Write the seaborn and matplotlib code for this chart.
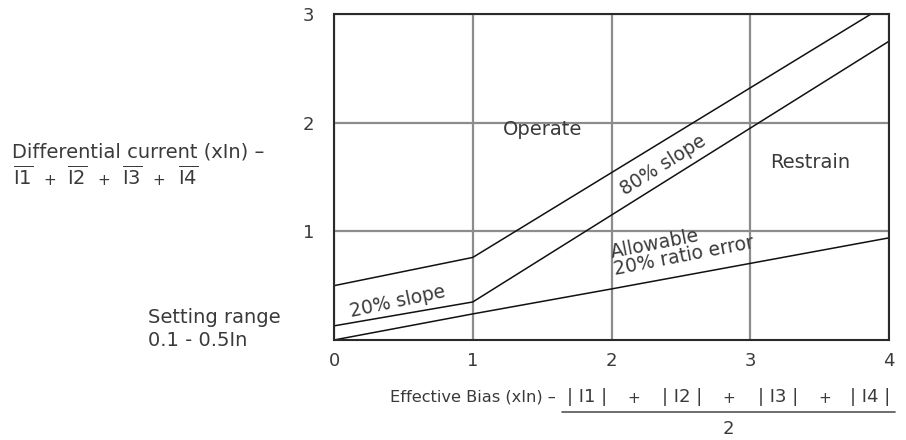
import pandas as pd
import matplotlib.pyplot as plt
import seaborn as sns
from matplotlib.lines import Line2D

# curves (x = effective bias, y = differential current, both xIn)
upper_x = [0, 1, 3.87]
upper_y = [0.50, 0.76, 3.0]
lower_x = [0, 1, 4]
lower_y = [0.13, 0.35, 2.75]
allow_x = [0, 1, 2, 4]
allow_y = [0, 0.24, 0.47, 0.94]

x_ticks = [0, 1, 2, 3, 4]
y_ticks = [1, 2, 3]
phase_terms = ["I1", "I2", "I3", "I4"]

rows = []
for name, xs, ys in [("upper", upper_x, upper_y), ("lower", lower_x, lower_y), ("allow", allow_x, allow_y)]:
    for x, y in zip(xs, ys):
        rows.append({"curve": name, "bias": x, "diff": y})
df = pd.DataFrame(rows)

sns.set_style("white")
plt.rcParams['font.family'] = ['DejaVu Sans']
plt.rcParams['mathtext.fontset'] = 'dejavusans'

txt = "#3a3a3a"
fig = plt.figure(figsize=(9.06, 4.4), dpi=100)
ax = fig.add_axes([0.3687, 0.2273, 0.6125, 0.7407])

sns.lineplot(data=df, x="bias", y="diff", hue="curve", units="curve", estimator=None, sort=False,
             palette={"upper": "#111111", "lower": "#111111", "allow": "#111111"},
             linewidth=1.1, legend=False, ax=ax)

ax.set_xlim(0, 4)
ax.set_ylim(0, 3)
ax.set_xticks(x_ticks)
ax.set_yticks(y_ticks)
ax.set_xticklabels([str(t) for t in x_ticks])
ax.set_yticklabels([str(t) for t in y_ticks])
ax.tick_params(length=0, labelsize=13, colors=txt, pad=9)
ax.tick_params(axis='y', pad=14)
ax.set_xlabel("")
ax.set_ylabel("")
ax.grid(True, color="#8c8c8c", linewidth=1.6)
ax.set_axisbelow(True)
for s in ax.spines.values():
    s.set_color("#2a2a2a")
    s.set_linewidth(1.5)

ax.text(1.5, 1.94, "Operate", fontsize=14, color=txt, ha="center", va="center")
ax.text(3.43, 1.63, "Restrain", fontsize=14, color=txt, ha="center", va="center")
ax.text(2.37, 1.61, "80% slope", fontsize=13.5, color=txt, ha="center", va="center", rotation=32)
ax.text(0.46, 0.35, "20% slope", fontsize=13.5, color=txt, ha="center", va="center", rotation=12)
ax.text(2.03, 0.56, "Allowable\n20% ratio error", fontsize=13.5, color=txt, ha="left", va="bottom",
        rotation=11, rotation_mode="anchor", linespacing=0.9)

# y axis description
fig.text(12 / 906, 1 - 152 / 440, "Differential current (xIn) \u2013", fontsize=14, color=txt,
         ha="left", va="center")
term_x = [23, 77, 132, 188]
for i, (t, px) in enumerate(zip(phase_terms, term_x)):
    fig.text(px / 906, 1 - 177 / 440, r"$\overline{\mathrm{%s}}$" % t, fontsize=14, color=txt,
             ha="center", va="center")
    if i < len(phase_terms) - 1:
        fig.text((px + 27) / 906, 1 - 180 / 440, "+", fontsize=11, color=txt, ha="center", va="center")

fig.text(148 / 906, 1 - 317 / 440, "Setting range", fontsize=14, color=txt, ha="left", va="center")
fig.text(148 / 906, 1 - 340 / 440, "0.1 - 0.5In", fontsize=14, color=txt, ha="left", va="center")

# x axis description
fig.text(390 / 906, 1 - 397 / 440, "Effective Bias (xIn) \u2013", fontsize=11.7, color=txt,
         ha="left", va="center")
abs_x = [587, 682, 778, 870]
for i, (t, px) in enumerate(zip(phase_terms, abs_x)):
    fig.text(px / 906, 1 - 397 / 440, "| %s |" % t, fontsize=13, color=txt, ha="center", va="center")
    if i < len(phase_terms) - 1:
        fig.text((px + 47) / 906, 1 - 398 / 440, "+", fontsize=11, color=txt, ha="center", va="center")
fig.add_artist(Line2D([562 / 906, 895 / 906], [1 - 412 / 440, 1 - 412 / 440],
                      transform=fig.transFigure, color="#555555", linewidth=1.2))
fig.text(728 / 906, 1 - 429 / 440, "2", fontsize=13, color=txt, ha="center", va="center")

fig.savefig("out.png", dpi=100)
